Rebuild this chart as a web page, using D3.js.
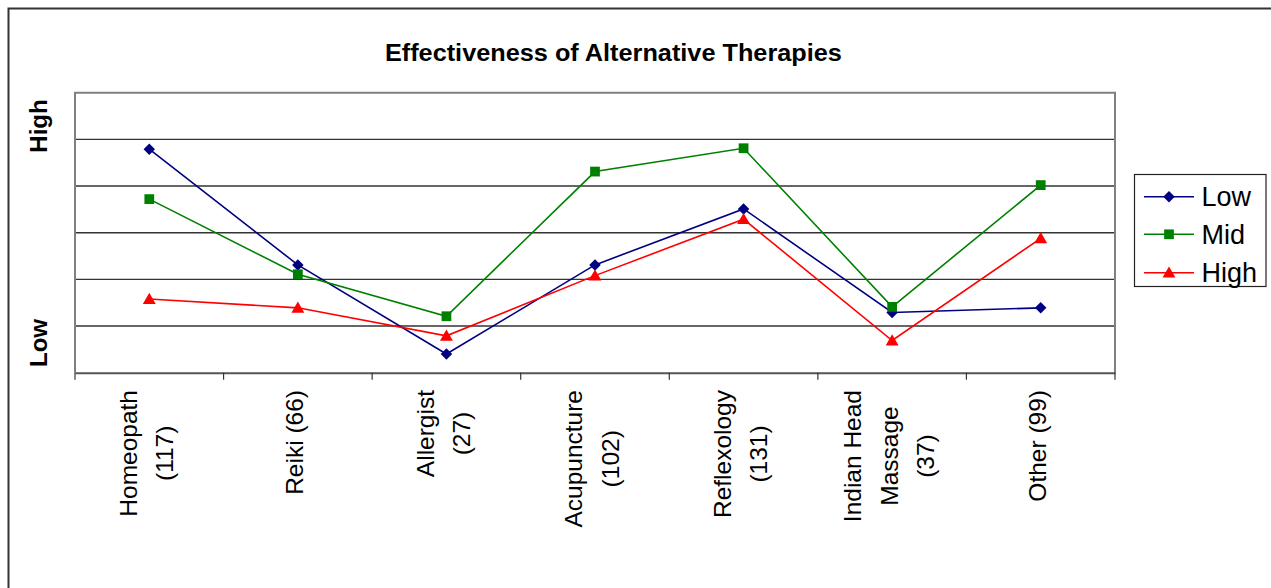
<!DOCTYPE html>
<html>
<head>
<meta charset="utf-8">
<script src="https://cdn.jsdelivr.net/npm/d3@7"></script>
<style>
  html, body { margin: 0; padding: 0; background: #fff; }
  svg { display: block; font-family: Arial, "Liberation Sans", sans-serif; }
</style>
</head>
<body>
<svg id="chart" width="1271" height="588"></svg>
<script>
const title = "Effectiveness of Alternative Therapies";
const categories = ["Homeopath\n(117)", "Reiki (66)", "Allergist\n(27)", "Acupuncture\n(102)", "Reflexology\n(131)", "Indian Head\nMassage\n(37)", "Other (99)"];
const seriesNames = ["Low", "Mid", "High"];
const lowValues  = [4.79, 2.31, 0.40, 2.31, 3.51, 1.29, 1.39];
const midValues  = [3.72, 2.11, 1.21, 4.31, 4.81, 1.41, 4.02];
const highValues = [1.58, 1.39, 0.79, 2.08, 3.29, 0.69, 2.88];
const yAxisLabels = ["High", "Low"];
const gridTicks = [1, 2, 3, 4, 5];

const seriesColors = ["#000080", "#008000", "#FF0000"];
const seriesSymbols = [d3.symbolSquare, d3.symbolSquare, d3.symbolTriangle];
const symbolSizes = [66, 95, 72];
const symbolRotate = [45, 0, 0];
const symbolShift = [0, 0, 1.2];
const seriesValues = [lowValues, midValues, highValues];

const svg = d3.select("#chart");
const plot = { left: 75, right: 1115, top: 92.7, bottom: 372.7 };

const x = d3.scaleBand().domain(categories).range([plot.left, plot.right]).padding(0);
const y = d3.scaleLinear().domain([0, 6]).range([plot.bottom, plot.top]);

// outer chart border
svg.append("path")
  .attr("d", `M8.5,600 L8.5,8.5 L1280,8.5`)
  .attr("fill", "none").attr("stroke", "#333").attr("stroke-width", 2);

// title
svg.append("text")
  .attr("x", 613.4).attr("y", 60.8)
  .attr("text-anchor", "middle")
  .attr("font-weight", "bold").attr("font-size", 23)
  .attr("textLength", 457).attr("lengthAdjust", "spacingAndGlyphs")
  .text(title);

// gridlines
svg.append("g").selectAll("line").data(gridTicks).join("line")
  .attr("x1", plot.left).attr("x2", plot.right)
  .attr("y1", d => y(d)).attr("y2", d => y(d))
  .attr("stroke", "#333").attr("stroke-width", 1.4);

// plot area border (left, top, right)
svg.append("path")
  .attr("d", `M${plot.left},${plot.bottom} L${plot.left},${plot.top} L${plot.right},${plot.top} L${plot.right},${plot.bottom}`)
  .attr("fill", "none").attr("stroke", "#808080").attr("stroke-width", 2);

// x axis
const xAxis = d3.axisBottom(x).tickSize(0).tickFormat("");
const ax = svg.append("g").attr("transform", `translate(0,${plot.bottom})`).call(xAxis);
ax.select(".domain").attr("stroke", "#555").attr("stroke-width", 2);
const boundaries = categories.map(c => x(c)).concat([x(categories[categories.length - 1]) + x.bandwidth()]);
ax.selectAll("line.bt").data(boundaries).join("line").attr("class", "bt")
  .attr("x1", d => d).attr("x2", d => d).attr("y1", 0).attr("y2", 7)
  .attr("stroke", "#333").attr("stroke-width", 1.2);

// category labels (rotated)
const lineGap = 36.5;
categories.forEach(c => {
  const lines = c.split("\n");
  const cx = x(c) + x.bandwidth() / 2 - 3;
  const g = svg.append("g").attr("transform", `translate(${cx},390) rotate(-90)`);
  const texts = lines.map((ln, i) => g.append("text")
    .attr("font-size", 24.5).attr("fill", "#000")
    .attr("text-anchor", "middle")
    .attr("y", (i - (lines.length - 1) / 2) * lineGap)
    .attr("dy", "0.35em")
    .text(ln));
  const maxW = d3.max(texts, t => t.node().getComputedTextLength());
  texts.forEach(t => t.attr("x", -maxW / 2));
});

// y "High"/"Low" labels
const yLabelPos = [126, 343];
yAxisLabels.forEach((lab, i) => {
  svg.append("text")
    .attr("transform", `translate(46.5,${yLabelPos[i]}) rotate(-90)`)
    .attr("text-anchor", "middle")
    .attr("font-weight", "bold").attr("font-size", 24)
    .text(lab);
});

// series lines and markers
const line = d3.line().x((d, i) => x(categories[i]) + x.bandwidth() / 2).y(d => y(d));
seriesValues.forEach((vals, s) => {
  svg.append("path").datum(vals)
    .attr("d", line)
    .attr("fill", "none").attr("stroke", seriesColors[s]).attr("stroke-width", 1.6);
  svg.append("g").selectAll("path").data(vals).join("path")
    .attr("transform", (d, i) => `translate(${x(categories[i]) + x.bandwidth() / 2},${y(d) + symbolShift[s]}) rotate(${symbolRotate[s]})`)
    .attr("d", d3.symbol().type(seriesSymbols[s]).size(symbolSizes[s]))
    .attr("fill", seriesColors[s]);
});

// legend
const leg = svg.append("g");
leg.append("rect").attr("x", 1134.5).attr("y", 174.5).attr("width", 131.5).attr("height", 112)
  .attr("fill", "#fff").attr("stroke", "#222").attr("stroke-width", 1.2);
const legY = [196.7, 234.3, 272.7];
seriesNames.forEach((n, s) => {
  leg.append("line").attr("x1", 1144).attr("x2", 1194).attr("y1", legY[s]).attr("y2", legY[s])
    .attr("stroke", seriesColors[s]).attr("stroke-width", 1.6);
  leg.append("path")
    .attr("transform", `translate(1169,${legY[s] + symbolShift[s]}) rotate(${symbolRotate[s]})`)
    .attr("d", d3.symbol().type(seriesSymbols[s]).size(symbolSizes[s]))
    .attr("fill", seriesColors[s]);
  leg.append("text").attr("x", 1201.5).attr("y", legY[s]).attr("dy", "0.36em")
    .attr("font-size", 27).text(n);
});
</script>
</body>
</html>
